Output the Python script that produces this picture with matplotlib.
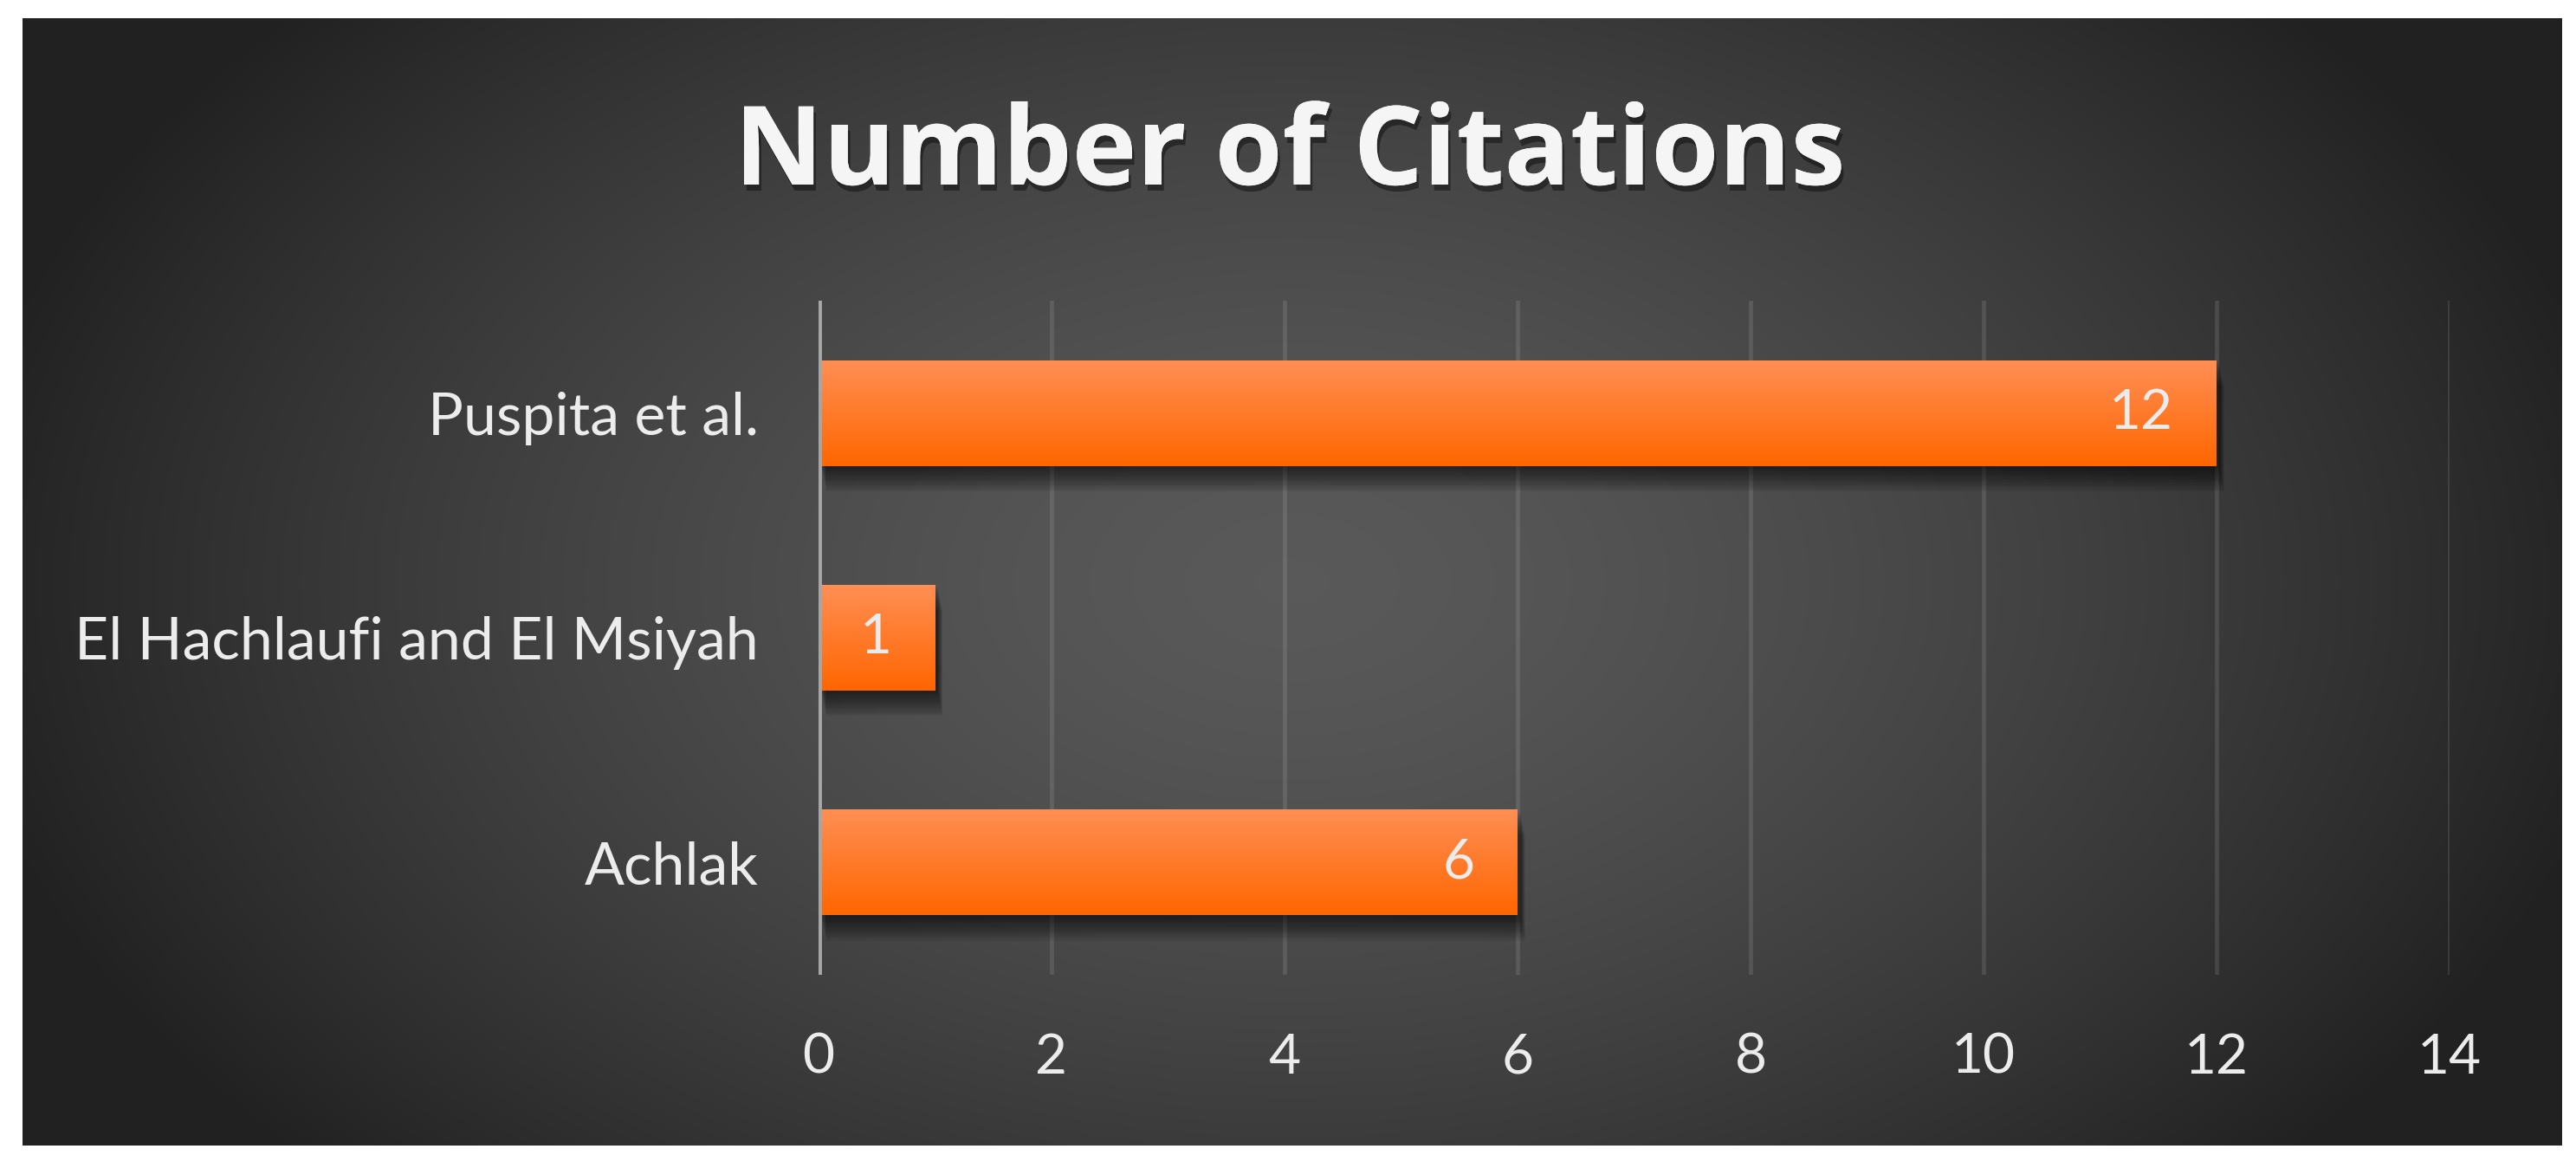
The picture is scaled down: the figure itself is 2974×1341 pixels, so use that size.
import numpy as np
import matplotlib
matplotlib.use('Agg')
import matplotlib.pyplot as plt
import matplotlib.patheffects as pe
from matplotlib.transforms import offset_copy

# data
authors = ['Achlak', 'El Hachlaufi and El Msiyah', 'Puspita et al.']
citations = [6, 1, 12]
xticks = [0, 2, 4, 6, 8, 10, 12, 14]
title = 'Number of Citations'

W, H = 2974, 1341
DPI = 100
fig = plt.figure(figsize=(W / DPI, H / DPI), dpi=DPI, facecolor='white')

# dark panel with a radial gradient
px0, px1, py0, py1 = 26, 2958, 21, 1322
bg = fig.add_axes([px0 / W, 1 - py1 / H, (px1 - px0) / W, (py1 - py0) / H])
bg.set_axis_off()
gx, gy = np.meshgrid(np.linspace(0, 1, 800), np.linspace(0, 1, 400))
r = np.sqrt(((gx - 0.5) / 0.5) ** 2 + ((gy - 0.5) / 0.5 * 0.7) ** 2)
shade = np.clip(0.35 - 0.2 * r ** 1.5, 0.13, 0.36)
bg.imshow(np.dstack([shade] * 3), aspect='auto', extent=[0, 1, 1, 0],
          interpolation='bicubic')
bg.set_xlim(0, 1)
bg.set_ylim(1, 0)

# plot area
ax = fig.add_axes([945 / W, 1 - 1125 / H, (2828 - 945) / W, (1125 - 347) / H])
ax.patch.set_alpha(0)
for s in ax.spines.values():
    s.set_visible(False)
ax.set_xlim(0, 14)
ax.set_ylim(-0.5, 2.5)
for t in xticks[1:]:
    ax.axvline(t, color='white', alpha=0.11, lw=3.4, zorder=1)
ax.axvline(0, color='#a6a6a6', lw=5.0, zorder=4)

ypos = np.arange(len(authors))
bar_h = 0.47
bars = ax.barh(ypos, citations, height=bar_h, color='#ff7a1e', zorder=3)

# soft shadow under the bars
for b in bars:
    x0, y0 = b.get_x(), b.get_y()
    w, h = b.get_width(), b.get_height()
    for k in range(12):
        tr = offset_copy(ax.transData, fig=fig, x=3 + k * 0.5, y=-(3 + k * 2.4), units='dots')
        ax.add_patch(plt.Rectangle((x0, y0), w, h, transform=tr, color='black',
                                   alpha=0.06, lw=0, zorder=2))

# vertical gradient on the bars
grad = np.linspace(0, 1, 256).reshape(-1, 1)
top_c = np.array([1.0, 0.56, 0.33])
bot_c = np.array([1.0, 0.40, 0.0])
gimg = top_c * (1 - grad[..., None]) + bot_c * grad[..., None]
gimg = gimg.reshape(256, 1, 3)
for b in bars:
    x0, y0 = b.get_x(), b.get_y()
    w, h = b.get_width(), b.get_height()
    im = ax.imshow(gimg, extent=[x0, x0 + w, y0, y0 + h], origin='upper',
                   aspect='auto', zorder=3.5, interpolation='bilinear')
    im.set_clip_path(b)
ax.set_xlim(0, 14)
ax.set_ylim(-0.5, 2.5)

font = 'Lato'
txt_c = '#ececec'
for y, v in zip(ypos, citations):
    ax.text(v - 0.37, y, str(v), ha='right', va='center', fontsize=46,
            color=txt_c, family=font, zorder=5)

ax.set_yticks(ypos)
ax.set_yticklabels(authors, fontsize=49, color=txt_c, family=font)
ax.set_xticks(xticks)
ax.set_xticklabels([str(t) for t in xticks], fontsize=46, color=txt_c, family=font)
ax.tick_params(length=0)
ax.tick_params(axis='y', pad=50)
ax.tick_params(axis='x', pad=48)

fig.text(0.5007, 1 - 180 / H, title, ha='center', va='center', fontsize=91,
         fontweight='bold', family='Open Sans', color='#f5f5f5',
         path_effects=[pe.withSimplePatchShadow(offset=(2, -5), shadow_rgbFace='black', alpha=0.4),
                       pe.Normal()])

fig.savefig('out.png', dpi=DPI, facecolor='white')
